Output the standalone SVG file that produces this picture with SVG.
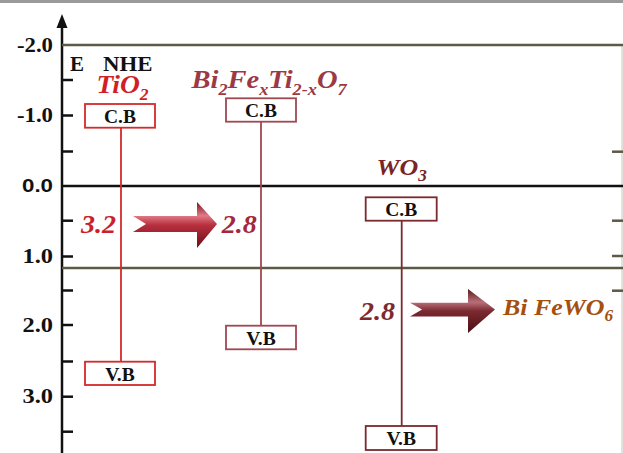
<svg xmlns="http://www.w3.org/2000/svg" width="623" height="453" viewBox="0 0 623 453">
<defs>
<style>
.lbl{font-family:"Liberation Serif","Times New Roman",serif;font-weight:bold;font-size:19.5px;fill:#111}
.tick{font-family:"Liberation Serif","Times New Roman",serif;font-weight:bold;font-size:20px;fill:#111;text-anchor:end}
.big{font-family:"Liberation Serif","Times New Roman",serif;font-weight:bold;font-style:italic;font-size:25px}
.band{fill:#fff;stroke-width:1.8}
.tk{stroke:#111;stroke-width:2.5}
.rtk{stroke:#5c5a44;stroke-width:2.5}
</style>
<linearGradient id="g1" x1="0" y1="0" x2="0" y2="1">
<stop offset="0" stop-color="#7e1424"/>
<stop offset="0.3" stop-color="#e07a86"/>
<stop offset="0.5" stop-color="#b8303f"/>
<stop offset="1" stop-color="#6a0c18"/>
</linearGradient>
<linearGradient id="g2" x1="0" y1="0" x2="0" y2="1">
<stop offset="0" stop-color="#5a181c"/>
<stop offset="0.3" stop-color="#b87078"/>
<stop offset="0.5" stop-color="#7c2a30"/>
<stop offset="1" stop-color="#4a1014"/>
</linearGradient>
</defs>
<rect x="0" y="0" width="623" height="453" fill="#fff"/>
<rect x="0" y="0" width="623" height="3" fill="#9a9a9a"/>

<g id="axis">
<line x1="62" y1="26" x2="62" y2="453" stroke="#111" stroke-width="2.5"/>
<polygon points="62,14 56.5,28 67.5,28" fill="#111"/>
<line x1="622" y1="45" x2="622" y2="453" stroke="#c8c4b8" stroke-width="1"/>
<line x1="62" y1="45" x2="623" y2="45" stroke="#5c5a44" stroke-width="2.5"/>
<line x1="62" y1="186" x2="623" y2="186" stroke="#111" stroke-width="2.5"/>
<line x1="62" y1="268" x2="623" y2="268" stroke="#5c5a44" stroke-width="2.5"/>
<g class="tk">
<line x1="62" y1="80" x2="73" y2="80"/>
<line x1="62" y1="115.5" x2="73" y2="115.5"/>
<line x1="62" y1="151.5" x2="73" y2="151.5"/>
<line x1="62" y1="220.7" x2="73" y2="220.7"/>
<line x1="62" y1="256.5" x2="73" y2="256.5"/>
<line x1="62" y1="290.5" x2="73" y2="290.5"/>
<line x1="62" y1="325" x2="73" y2="325"/>
<line x1="62" y1="361.5" x2="73" y2="361.5"/>
<line x1="62" y1="396.7" x2="73" y2="396.7"/>
<line x1="62" y1="431.7" x2="73" y2="431.7"/>
</g>
<g class="rtk">
<line x1="612" y1="151.7" x2="623" y2="151.7"/>
<line x1="612" y1="220.7" x2="623" y2="220.7"/>
<line x1="612" y1="256" x2="623" y2="256"/>
<line x1="612" y1="290.7" x2="623" y2="290.7"/>
</g>
<text class="tick" x="53" y="51.5" textLength="36" lengthAdjust="spacingAndGlyphs" style="font-size:21px">-2.0</text>
<text class="tick" x="53" y="122" textLength="36" lengthAdjust="spacingAndGlyphs" style="font-size:21px">-1.0</text>
<text class="tick" x="53" y="192" textLength="31" lengthAdjust="spacingAndGlyphs" style="font-family:'Liberation Sans',Arial,sans-serif;font-size:19px">0.0</text>
<text class="tick" x="53" y="263" textLength="30.5" lengthAdjust="spacingAndGlyphs" style="font-size:21px">1.0</text>
<text class="tick" x="53" y="332" textLength="30.5" lengthAdjust="spacingAndGlyphs" style="font-size:21px">2.0</text>
<text class="tick" x="53" y="403" textLength="30.5" lengthAdjust="spacingAndGlyphs" style="font-size:21px">3.0</text>
<text class="lbl" x="70" y="71" style="font-size:21px">E</text>
<text class="lbl" x="103" y="71" style="font-size:21px" textLength="49.5" lengthAdjust="spacingAndGlyphs">NHE</text>
</g>

<g id="connectors">
<line x1="121" y1="128" x2="121" y2="361.7" stroke="#d42a2a" stroke-width="1.8"/>
<line x1="261" y1="121.7" x2="261" y2="325.7" stroke="#a04850" stroke-width="1.8"/>
<line x1="401.7" y1="220.7" x2="401.7" y2="426" stroke="#7b2a2e" stroke-width="1.8"/>
<polygon id="arrow1" points="133,216 146,224 133,232 197,232 197,248 217,224 197,202 197,216" fill="url(#g1)"/>
<polygon id="arrow2" points="410,302.7 422,309.5 410,316.5 468,316.5 468,333 495,309.5 468,289 468,302.7" fill="url(#g2)"/>
</g>

<g id="tio2">
<g transform="translate(96.5,92.5) scale(1.1,1)"><text class="big" fill="#d01f26">TiO<tspan font-size="16" dy="7">2</tspan></text></g>
<rect class="band" x="85" y="104" width="70" height="23.7" stroke="#d42a2a"/>
<text class="lbl" x="120" y="123" text-anchor="middle">C.B</text>
<rect class="band" x="85" y="361.7" width="70" height="23.3" stroke="#d42a2a"/>
<text class="lbl" x="120" y="380.7" text-anchor="middle">V.B</text>
</g>

<g id="bi2fexti2xo7">
<g transform="translate(191.5,88.3) scale(1.14,1)"><text class="big" fill="#9b3a45">Bi<tspan font-size="16" dy="7">2</tspan><tspan dy="-7">Fe</tspan><tspan font-size="16" dy="7">x</tspan><tspan dy="-7">Ti</tspan><tspan font-size="16" dy="7">2-x</tspan><tspan dy="-7">O</tspan><tspan font-size="16" dy="7">7</tspan></text></g>
<rect class="band" x="226" y="98.3" width="70" height="23.4" stroke="#a04850"/>
<text class="lbl" x="261" y="117" text-anchor="middle">C.B</text>
<rect class="band" x="226" y="325.7" width="70" height="23.6" stroke="#a04850"/>
<text class="lbl" x="261" y="344.5" text-anchor="middle">V.B</text>
</g>

<g id="wo3">
<g transform="translate(376.5,175) scale(1.08,1)"><text class="big" fill="#7b2428" style="font-size:24px">WO<tspan font-size="16" dy="6">3</tspan></text></g>
<rect class="band" x="365.7" y="197.3" width="71" height="23.4" stroke="#7b2a2e"/>
<text class="lbl" x="401.2" y="216" text-anchor="middle">C.B</text>
<rect class="band" x="365.7" y="426" width="71" height="24" stroke="#7b2a2e"/>
<text class="lbl" x="401.2" y="445" text-anchor="middle">V.B</text>
</g>

<g id="gap-labels">
<g transform="translate(81,233.3) scale(1.12,1)"><text class="big" fill="#cc1f2a">3.2</text></g>
<g transform="translate(221.7,233.3) scale(1.12,1)"><text class="big" fill="#a3283c">2.8</text></g>
<g transform="translate(360,320) scale(1.12,1)"><text class="big" fill="#7b2a30">2.8</text></g>
</g>

<g id="bifewo6">
<g transform="translate(503,315) scale(1.08,1)"><text class="big" fill="#a4500e" style="font-size:24px">Bi FeWO<tspan font-size="16" dy="6">6</tspan></text></g>
</g>
</svg>
